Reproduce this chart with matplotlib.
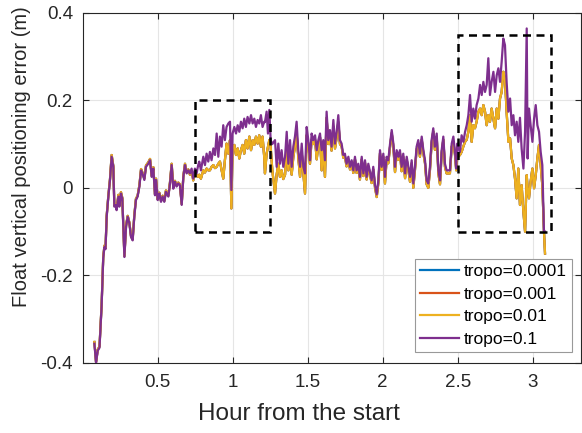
import numpy as np
import matplotlib
matplotlib.use("Agg")
import matplotlib.pyplot as plt
from matplotlib.patches import Rectangle

plt.rcParams['font.family'] = ['Liberation Sans', 'DejaVu Sans']

# hour from the start
hours = [
    0.078, 0.089, 0.100, 0.112, 0.126, 0.137, 0.145, 0.152, 0.160, 0.171,
    0.182, 0.193, 0.204, 0.211, 0.220, 0.226, 0.238, 0.244, 0.255, 0.264,
    0.278, 0.289, 0.300, 0.311, 0.322, 0.333, 0.344, 0.355, 0.366, 0.378,
    0.389, 0.398, 0.411, 0.422, 0.437, 0.449, 0.460, 0.471, 0.482, 0.489,
    0.500, 0.511, 0.522, 0.533, 0.544, 0.555, 0.571, 0.582, 0.593, 0.604,
    0.615, 0.626, 0.637, 0.648, 0.660, 0.671, 0.682, 0.693, 0.704, 0.715,
    0.726, 0.737, 0.748,
    0.759, 0.770, 0.777, 0.788, 0.804, 0.815, 0.826, 0.837, 0.848, 0.859,
    0.871, 0.882, 0.893, 0.904, 0.915, 0.926, 0.937, 0.948, 0.959, 0.971,
    0.982, 0.991, 0.999, 1.011, 1.022, 1.033, 1.044, 1.055, 1.066, 1.077,
    1.088, 1.099, 1.111, 1.122, 1.133, 1.144, 1.155, 1.166, 1.177, 1.188,
    1.199, 1.210, 1.215, 1.226, 1.235, 1.244, 1.253,
    1.264, 1.282, 1.293, 1.304, 1.315, 1.326, 1.337, 1.349, 1.360, 1.371,
    1.382, 1.393, 1.404, 1.415, 1.426, 1.437, 1.449, 1.460, 1.471, 1.482,
    1.493, 1.504, 1.515, 1.526, 1.537, 1.549, 1.560, 1.571, 1.582, 1.593,
    1.604, 1.615, 1.626, 1.637, 1.648, 1.659, 1.671, 1.682, 1.693, 1.704,
    1.715, 1.726, 1.737, 1.748, 1.759, 1.771, 1.782, 1.793, 1.804, 1.815,
    1.826, 1.837, 1.848, 1.860, 1.871, 1.882, 1.893, 1.904, 1.915, 1.926,
    1.937, 1.949, 1.960, 1.971,
    1.982, 1.993, 2.004, 2.015, 2.026, 2.037, 2.049, 2.060, 2.071, 2.082,
    2.093, 2.104, 2.115, 2.126, 2.137, 2.149, 2.160, 2.171, 2.182, 2.193,
    2.204, 2.215, 2.226, 2.237, 2.248, 2.260, 2.271, 2.282, 2.293, 2.304,
    2.315, 2.326, 2.337, 2.348, 2.360, 2.371, 2.382, 2.393, 2.404, 2.415,
    2.426, 2.437, 2.448, 2.460, 2.471, 2.482, 2.490, 2.497, 2.506,
    2.515, 2.526, 2.538, 2.549, 2.560, 2.571, 2.582, 2.593, 2.604, 2.615,
    2.626, 2.638, 2.649, 2.660, 2.671, 2.682, 2.693, 2.704, 2.715, 2.726,
    2.738, 2.749, 2.760, 2.771, 2.782, 2.793, 2.804, 2.815, 2.826, 2.838,
    2.849, 2.860, 2.871, 2.882, 2.893, 2.904, 2.915, 2.926, 2.938, 2.949,
    2.960, 2.966, 2.975, 2.986, 2.998, 3.009, 3.020, 3.031, 3.042, 3.053,
    3.064, 3.075, 3.082,
]

# tropo = 0.1
err_01 = [
    -0.356, -0.400, -0.372, -0.365, -0.270, -0.160, -0.135, -0.140, -0.066, -0.020,
    0.018, 0.071, 0.048, -0.043, -0.040, -0.051, -0.020, -0.043, -0.013, -0.025,
    -0.158, -0.089, -0.066, -0.081, -0.112, -0.120, -0.066, -0.028, -0.020, 0.003,
    0.040, 0.033, 0.018, 0.048, 0.055, 0.063, 0.025, 0.044, -0.017, 0.018,
    -0.028, -0.013, -0.032, -0.020, -0.032, -0.009, -0.020, 0.010, 0.052, -0.002,
    0.014, 0.003, 0.010, 0.006, -0.039, 0.025, 0.052, 0.033, 0.040, 0.033,
    0.044, 0.021, 0.044,
    0.033, 0.052, 0.060, 0.040, 0.071, 0.052, 0.078, 0.060, 0.082, 0.063,
    0.090, 0.075, 0.124, 0.071, 0.117, 0.094, 0.143, 0.109, 0.139, 0.147,
    0.151, -0.005, 0.124, 0.139, 0.124, 0.143, 0.128, 0.151, 0.136, 0.158,
    0.139, 0.162, 0.147, 0.166, 0.147, 0.158, 0.139, 0.155, 0.147, 0.166,
    0.139, 0.151, 0.150, 0.174, 0.124, 0.178, 0.109,
    0.100, 0.109, 0.048, 0.101, 0.055, 0.086, 0.048, 0.071, 0.128, 0.055,
    0.109, 0.048, 0.094, 0.117, 0.151, 0.086, 0.048, 0.101, 0.048, 0.033,
    0.139, 0.109, 0.063, 0.124, 0.109, 0.120, 0.086, 0.109, 0.124, 0.086,
    0.109, 0.063, 0.174, 0.109, 0.132, 0.094, 0.155, 0.101, 0.128, 0.166,
    0.109, 0.101, 0.075, 0.078, 0.055, 0.071, 0.048, 0.063, 0.040, 0.071,
    0.040, 0.055, 0.025, 0.071, 0.033, 0.063, 0.025, 0.055, 0.037, 0.017,
    0.048, 0.006, -0.015, 0.017,
    0.086, 0.048, 0.078, 0.025, 0.071, 0.063, 0.101, 0.132, 0.101, 0.048,
    0.086, 0.071, 0.086, 0.048, 0.078, 0.033, 0.071, 0.048, 0.025, 0.063,
    0.010, 0.048, 0.094, 0.109, 0.078, 0.117, 0.086, 0.063, 0.017, 0.010,
    0.048, 0.109, 0.136, 0.094, 0.124, 0.040, 0.017, 0.086, 0.117, 0.055,
    0.040, 0.040, 0.040, 0.101, 0.117, 0.082, 0.044, 0.101, 0.090,
    0.082, 0.120, 0.105, 0.128, 0.143, 0.166, 0.212, 0.151, 0.181, 0.158,
    0.189, 0.204, 0.235, 0.212, 0.242, 0.219, 0.235, 0.296, 0.212, 0.242,
    0.265, 0.219, 0.257, 0.273, 0.242, 0.288, 0.341, 0.326, 0.242, 0.174,
    0.204, 0.143, 0.166, 0.120, 0.151, 0.105, 0.160, 0.090, 0.044, 0.128,
    0.364, 0.067, 0.181, 0.143, 0.105, 0.158, 0.189, 0.143, 0.128, 0.082,
    0.052, -0.100, -0.100,
]

# tropo = 0.01 (0.001 and 0.0001 lie on top of it)
err_001 = [
    -0.352, -0.398, -0.370, -0.362, -0.268, -0.157, -0.132, -0.138, -0.063, -0.018,
    0.020, 0.075, 0.050, -0.041, -0.037, -0.049, -0.016, -0.041, -0.010, -0.023,
    -0.156, -0.086, -0.064, -0.079, -0.110, -0.118, -0.063, -0.025, -0.018, 0.006,
    0.043, 0.035, 0.021, 0.051, 0.058, 0.066, 0.027, 0.047, -0.015, 0.021,
    -0.026, -0.011, -0.030, -0.018, -0.030, -0.006, -0.018, 0.013, 0.055, 0.001,
    0.016, 0.005, 0.012, 0.008, -0.037, 0.027, 0.055, 0.035, 0.042, 0.030,
    0.038, 0.017, 0.035,
    0.029, 0.025, 0.030, 0.021, 0.040, 0.035, 0.044, 0.040, 0.040, 0.048,
    0.052, 0.045, 0.048, 0.055, 0.060, 0.040, 0.021, 0.063, 0.101, 0.078,
    0.109, -0.047, 0.090, 0.098, 0.075, 0.090, 0.067, 0.086, 0.098, 0.078,
    0.109, 0.090, 0.117, 0.086, 0.109, 0.098, 0.117, 0.101, 0.120, 0.094,
    0.117, 0.071, 0.033, 0.078, 0.094, 0.109, 0.094,
    0.040, -0.013, 0.030, 0.055, 0.025, 0.040, 0.020, 0.030, 0.095, 0.040,
    0.085, 0.030, 0.070, 0.095, 0.125, 0.070, 0.025, 0.080, 0.035, -0.013,
    0.120, 0.100, 0.055, 0.110, 0.100, 0.110, 0.065, 0.100, 0.115, 0.040,
    0.095, 0.025, 0.160, 0.100, 0.120, 0.085, 0.140, 0.090, 0.115, 0.150,
    0.100, 0.095, 0.069, 0.072, 0.049, 0.065, 0.042, 0.057, 0.034, 0.065,
    0.034, 0.049, 0.019, 0.065, 0.027, 0.057, 0.019, 0.049, 0.031, 0.011,
    0.042, 0.000, -0.021, 0.011,
    0.079, 0.041, 0.071, 0.010, 0.064, 0.056, 0.094, 0.125, 0.094, 0.036,
    0.079, 0.064, 0.079, 0.038, 0.071, 0.022, 0.064, 0.041, 0.014, 0.056,
    0.000, 0.041, 0.087, 0.102, 0.071, 0.110, 0.079, 0.056, 0.008, 0.000,
    0.041, 0.102, 0.129, 0.087, 0.117, 0.033, 0.008, 0.079, 0.110, 0.048,
    0.033, 0.033, 0.033, 0.094, 0.105, 0.075, 0.040, 0.070, 0.072,
    0.075, 0.082, 0.095, 0.105, 0.110, 0.128, 0.166, 0.105, 0.143, 0.136,
    0.151, 0.174, 0.181, 0.166, 0.189, 0.174, 0.143, 0.166, 0.151, 0.181,
    0.158, 0.136, 0.181, 0.158, 0.204, 0.219, 0.265, 0.250, 0.174, 0.105,
    0.113, 0.067, 0.052, 0.021, -0.024, 0.044, -0.039, 0.006, -0.055, -0.100,
    0.029, 0.000, -0.024, 0.014, 0.044, -0.001, 0.029, 0.067, 0.098, 0.052,
    0.006, -0.100, -0.150,
]

err_0001 = err_001
err_00001 = err_001

labels = ['tropo=0.0001', 'tropo=0.001', 'tropo=0.01', 'tropo=0.1']
colors = ['#0072BD', '#D95319', '#EDB120', '#7E2F8E']

# zoom boxes (x0, x1, y0, y1)
boxes = [(0.75, 1.25, -0.1, 0.2), (2.5, 3.12, -0.1, 0.35)]

fig = plt.figure(figsize=(5.82, 4.33), dpi=100)
ax = fig.add_axes([0.1421, 0.1617, 0.8557, 0.809])

for vals, lab, c in zip([err_00001, err_0001, err_001, err_01], labels, colors):
    ax.plot(hours, vals, color=c, lw=1.6, label=lab)

for x0, x1, y0, y1 in boxes:
    ax.add_patch(Rectangle((x0, y0), x1 - x0, y1 - y0, fill=False,
                           ec='black', lw=1.8, ls=(0, (3.2, 2.2)), zorder=5))

ax.set_xlim(0, 3.32)
ax.set_ylim(-0.4, 0.4)
ax.set_xticks([0.5, 1, 1.5, 2, 2.5, 3])
ax.set_xticklabels(['0.5', '1', '1.5', '2', '2.5', '3'])
ax.set_yticks([-0.4, -0.2, 0, 0.2, 0.4])
ax.set_yticklabels(['-0.4', '-0.2', '0', '0.2', '0.4'])
ax.grid(True, color='#e5e5e5', lw=0.8)
ax.set_axisbelow(True)
ax.tick_params(direction='in', top=True, right=True, labelsize=13.5,
               colors='#262626', length=4)
ax.tick_params(axis='y', pad=7)
ax.tick_params(axis='x', pad=8)
for s in ax.spines.values():
    s.set_color('#262626')
    s.set_linewidth(0.8)

ax.set_xlabel('Hour from the start', fontsize=17.5, color='#262626')
ax.set_ylabel('Float vertical positioning error (m)', fontsize=14.5,
              color='#262626')
ax.xaxis.set_label_coords(0.434, -0.147)
ax.yaxis.set_label_coords(-0.122, 0.588)
ax.xaxis.label.set_va('center')
ax.yaxis.label.set_va('center')

leg = ax.legend(loc='lower right', bbox_to_anchor=(0.9825, 0.0314),
                borderaxespad=0, fontsize=12.5, handlelength=2.2,
                handletextpad=0.3, labelspacing=0.42, borderpad=0.3,
                fancybox=False, framealpha=1)
leg.get_frame().set_edgecolor('#999999')
leg.get_frame().set_linewidth(0.8)

fig.savefig('out.png', dpi=100)
